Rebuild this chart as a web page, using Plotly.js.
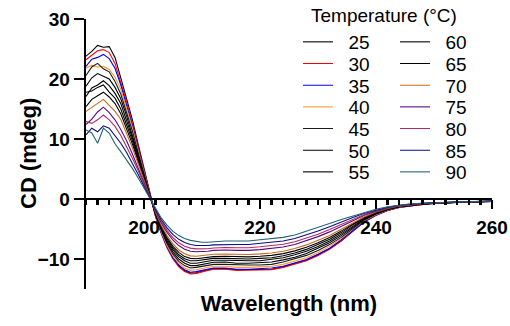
<!DOCTYPE html>
<html>
<head>
<meta charset="utf-8">
<script src="https://cdn.plot.ly/plotly-3.0.1.min.js"></script>
<style>html,body{margin:0;padding:0;background:#fff;}#chart{width:510px;height:326px;}</style>
</head>
<body>
<div id="chart"></div>
<script>
// Wavelength grid (nm)
const wavelength = [190,191,192,193,194,195,196,197,198,199,200,201,202,203,204,205,206,207,208,209,210,211,212,
  214,216,218,220,222,224,226,228,230,232,234,236,238,240,242,244,246,248,250,255,260];

// CD (mdeg) per temperature
const cd25 = [23.8,24.6,25.6,25.3,25.4,23.6,20.2,16.8,13.2,9.1,5.0,0.8,-2.8,-5.6,-8.0,-9.85,-11.15,-11.95,-12.35,-12.3,-12.0,-11.8,-11.6,
  -11.6,-11.8,-11.8,-11.8,-11.7,-11.3,-10.8,-10.2,-9.3,-8.3,-6.95,-5.3,-3.8,-2.7,-1.9,-1.4,-1.1,-0.9,-0.75,-0.5,-0.4];
const cd30 = [23.2,24.0,24.7,24.9,24.4,22.6,19.6,16.2,12.6,8.6,4.6,0.6,-3.0,-5.8,-8.2,-10.0,-11.3,-12.1,-12.5,-12.4,-12.1,-11.9,-11.7,
  -11.7,-11.9,-11.9,-11.9,-11.8,-11.4,-10.9,-10.3,-9.4,-8.4,-7.0,-5.3,-3.8,-2.7,-1.9,-1.4,-1.1,-0.9,-0.75,-0.5,-0.4];
const cd35 = [22.1,23.3,23.6,24.1,23.4,21.8,19.0,15.7,12.2,8.3,4.5,0.6,-2.9,-5.7,-8.0,-9.8,-11.0,-11.8,-12.2,-12.1,-11.9,-11.7,-11.5,
  -11.5,-11.7,-11.7,-11.6,-11.5,-11.2,-10.7,-10.1,-9.2,-8.2,-6.8,-5.2,-3.7,-2.65,-1.87,-1.38,-1.08,-0.89,-0.74,-0.5,-0.4];
const cd40 = [21.8,22.3,22.0,22.1,21.6,20.3,18.3,15.1,11.8,8.0,4.3,0.5,-2.8,-5.5,-7.8,-9.5,-10.7,-11.5,-11.9,-11.8,-11.6,-11.4,-11.2,
  -11.2,-11.4,-11.4,-11.3,-11.2,-10.9,-10.4,-9.8,-8.9,-7.9,-6.6,-5.0,-3.6,-2.6,-1.83,-1.36,-1.07,-0.88,-0.73,-0.49,-0.39];
const cd45 = [20.6,22.0,22.6,21.7,21.2,19.6,17.5,14.5,11.3,7.7,4.1,0.5,-2.7,-5.3,-7.5,-9.2,-10.4,-11.1,-11.5,-11.4,-11.2,-11.1,-10.9,
  -10.9,-11.0,-11.0,-11.0,-10.9,-10.5,-10.0,-9.4,-8.6,-7.6,-6.4,-4.9,-3.5,-2.5,-1.79,-1.33,-1.05,-0.86,-0.72,-0.49,-0.39];
const cd50 = [18.8,20.2,20.9,20.5,20.0,18.6,16.7,13.8,10.7,7.3,3.9,0.5,-2.65,-5.15,-7.25,-8.85,-10.0,-10.7,-11.1,-11.1,-10.9,-10.7,-10.55,
  -10.5,-10.7,-10.7,-10.6,-10.5,-10.15,-9.7,-9.1,-8.25,-7.3,-6.1,-4.7,-3.4,-2.45,-1.75,-1.3,-1.03,-0.85,-0.71,-0.49,-0.39];
const cd55 = [17.1,18.5,19.0,19.7,18.9,17.6,15.9,13.1,10.2,7.0,3.7,0.4,-2.55,-4.95,-7.0,-8.5,-9.6,-10.3,-10.7,-10.7,-10.5,-10.4,-10.2,
  -10.2,-10.3,-10.3,-10.3,-10.1,-9.8,-9.3,-8.7,-7.9,-7.0,-5.85,-4.5,-3.3,-2.4,-1.7,-1.27,-1.0,-0.84,-0.7,-0.48,-0.38];
const cd60 = [17.8,18.0,18.6,19.0,17.8,16.8,15.0,12.5,9.7,6.6,3.5,0.4,-2.45,-4.8,-6.7,-8.2,-9.3,-9.95,-10.3,-10.3,-10.2,-10.1,-9.9,
  -9.9,-10.0,-10.0,-9.9,-9.8,-9.45,-9.0,-8.4,-7.6,-6.7,-5.6,-4.3,-3.2,-2.3,-1.67,-1.24,-0.98,-0.82,-0.69,-0.48,-0.38];
const cd65 = [15.4,16.6,17.2,17.8,17.0,15.9,14.2,11.8,9.15,6.25,3.3,0.37,-2.36,-4.6,-6.45,-7.9,-8.9,-9.6,-9.9,-9.95,-9.85,-9.75,-9.6,
  -9.55,-9.65,-9.65,-9.55,-9.4,-9.1,-8.65,-8.05,-7.3,-6.4,-5.35,-4.15,-3.05,-2.24,-1.62,-1.22,-0.96,-0.81,-0.68,-0.48,-0.38];
const cd70 = [14.6,15.3,15.9,16.6,15.6,14.6,13.3,11.0,8.55,5.85,3.1,0.33,-2.24,-4.4,-6.15,-7.5,-8.5,-9.13,-9.48,-9.54,-9.45,-9.36,-9.2,
  -9.16,-9.25,-9.25,-9.15,-9.0,-8.7,-8.25,-7.65,-6.9,-6.1,-5.05,-3.95,-2.95,-2.16,-1.58,-1.18,-0.94,-0.79,-0.67,-0.47,-0.37];
const cd75 = [12.4,13.3,14.5,15.3,14.4,13.2,11.6,9.7,7.5,5.1,2.7,0.26,-2.05,-4.03,-5.6,-6.87,-7.76,-8.36,-8.7,-8.8,-8.77,-8.7,-8.57,
  -8.5,-8.57,-8.57,-8.43,-8.26,-8.0,-7.57,-6.97,-6.27,-5.48,-4.55,-3.6,-2.71,-2.02,-1.49,-1.13,-0.9,-0.76,-0.65,-0.47,-0.37];
const cd80 = [12.9,12.6,13.2,14.0,13.2,12.1,10.6,8.8,6.8,4.7,2.4,0.2,-1.92,-3.8,-5.27,-6.46,-7.3,-7.87,-8.19,-8.32,-8.33,-8.28,-8.16,
  -8.08,-8.13,-8.13,-7.97,-7.8,-7.55,-7.13,-6.53,-5.86,-5.09,-4.23,-3.38,-2.57,-1.93,-1.44,-1.09,-0.87,-0.75,-0.63,-0.46,-0.36];
const cd85 = [10.7,11.8,11.2,12.2,11.8,10.6,9.3,7.75,6.0,4.1,2.14,0.16,-1.77,-3.5,-4.86,-5.95,-6.72,-7.26,-7.57,-7.74,-7.79,-7.76,-7.65,
  -7.56,-7.59,-7.59,-7.41,-7.22,-7.0,-6.59,-5.99,-5.35,-4.62,-3.83,-3.1,-2.39,-1.82,-1.37,-1.05,-0.84,-0.72,-0.62,-0.46,-0.36];
const cd90 = [11.5,11.0,9.3,11.8,11.0,9.2,7.9,6.6,5.1,3.5,1.8,0.1,-1.6,-3.2,-4.4,-5.4,-6.1,-6.6,-6.9,-7.1,-7.2,-7.2,-7.1,
  -7.0,-7.0,-7.0,-6.8,-6.6,-6.4,-6.0,-5.4,-4.8,-4.1,-3.4,-2.8,-2.2,-1.7,-1.3,-1.0,-0.8,-0.7,-0.6,-0.45,-0.35];

const temperatures = ['25','30','35','40','45','50','55','60','65','70','75','80','85','90'];
const seriesValues = [cd25,cd30,cd35,cd40,cd45,cd50,cd55,cd60,cd65,cd70,cd75,cd80,cd85,cd90];
const colors = ['#000000','#ff0000','#0000ff','#ff9a2e','#1a1a1a','#000000','#000000',
  '#000000','#000000','#c8691c','#5c0a7a','#b02a6a','#0a0a8a','#1f6575'];

const F = 'Arial, "Liberation Sans", Helvetica, sans-serif';
const pad = '\u00a0\u00a0';

// plot area in pixels: x 86..492, y 19..289
const plotTop = 19, plotH = 270, plotL = 86, plotW = 406;
const legendKeys = temperatures.map((t, i) => i === 0 ? 'legend' : 'legend' + (i + 1));

const traces = temperatures.map((t, i) => ({
  x: wavelength,
  y: seriesValues[i],
  type: 'scatter',
  mode: 'lines',
  name: pad + t,
  line: {color: colors[i], width: 1.1},
  legend: legendKeys[i]
}));

const layout = {
  width: 510,
  height: 326,
  margin: {l: 86, r: 18, t: 19, b: 37},
  paper_bgcolor: '#ffffff',
  plot_bgcolor: '#ffffff',
  font: {family: F, color: '#000'},
  showlegend: true,
  xaxis: {
    range: [190, 260],
    anchor: 'free',
    position: 15/45,
    showline: true, linecolor: '#000', linewidth: 2.4,
    showgrid: false, zeroline: false,
    tickvals: [200, 220, 240, 260],
    ticks: 'outside', ticklen: 9, tickwidth: 2.4, tickcolor: '#000',
    ticklabelstandoff: 2,
    minor: {dtick: 2, tick0: 190, ticks: 'outside', ticklen: 5, tickwidth: 2.4, tickcolor: '#000', showgrid: false},
    tickfont: {family: F, size: 19, weight: 'bold', color: '#000'},
    title: {text: 'Wavelength (nm)', font: {family: F, size: 22, weight: 'bold', color: '#000'}, standoff: 58}
  },
  yaxis: {
    range: [-15, 30],
    showline: true, linecolor: '#000', linewidth: 2.4,
    showgrid: false, zeroline: false,
    tickvals: [-10, 0, 10, 20, 30],
    ticks: 'outside', ticklen: 10, tickwidth: 2.4, tickcolor: '#000',
    tickfont: {family: F, size: 19, weight: 'bold', color: '#000'}
  },
  annotations: [{
    text: 'Temperature (°C)',
    xref: 'paper', yref: 'paper', x: (384 - plotL) / plotW, y: (plotTop + plotH - 15.5) / plotH,
    xanchor: 'center', yanchor: 'middle', showarrow: false,
    font: {family: F, size: 19, color: '#000'}
  }, {
    text: '<b>CD (mdeg)</b>',
    xref: 'paper', yref: 'paper', x: (28 - plotL) / plotW, y: 0.5,
    xanchor: 'center', yanchor: 'middle', showarrow: false, textangle: -90,
    font: {family: F, size: 22, color: '#000'}
  }]
};

// one legend per entry so the two columns keep the reference row spacing
legendKeys.forEach((key, i) => {
  const col = i < 7 ? 0 : 1;
  const row = i % 7;
  const leftPx = col === 0 ? 298 : 395;
  const centerPx = 42 + row * 21.67;
  layout[key] = {
    font: {family: F, size: 19, color: '#000'},
    bgcolor: 'rgba(0,0,0,0)',
    borderwidth: 0,
    itemwidth: 30,
    xanchor: 'left', yanchor: 'middle',
    x: (leftPx - plotL) / plotW,
    y: (plotTop + plotH - centerPx) / plotH
  };
});

Plotly.newPlot('chart', traces, layout, {displayModeBar: false, staticPlot: true});
</script>
</body>
</html>
